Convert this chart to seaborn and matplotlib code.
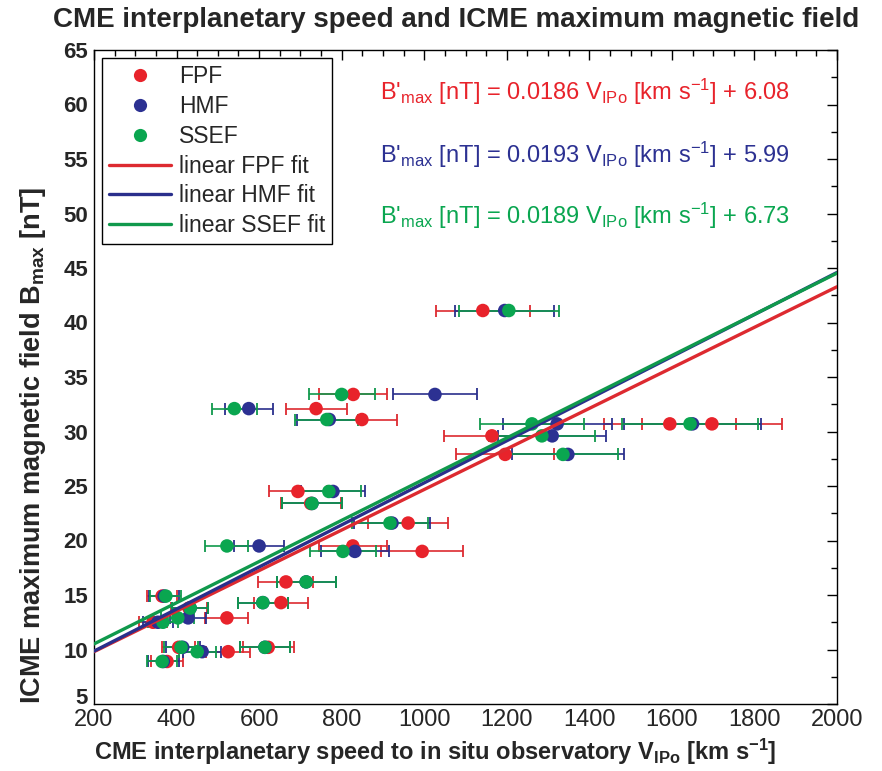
import numpy as np
import pandas as pd
import matplotlib
matplotlib.use("Agg")
import matplotlib.pyplot as plt
from matplotlib.lines import Line2D
from matplotlib.ticker import MultipleLocator
import seaborn as sns

# ICME maximum magnetic field observed in situ for each event [nT]
b_max = [41.1, 33.4, 32.1, 31.1, 30.7, 30.7, 29.6, 27.9, 24.5, 23.4, 21.6, 19.5,
         19.0, 16.2, 14.9, 14.3, 13.8, 12.9, 12.5, 10.2, 10.2, 9.8, 8.9]
# CME interplanetary speed to the in situ observatory from each fitting method [km/s]
v_fpf = [1142, 828, 738, 849, 1595, 1697, 1164, 1196, 694, 725, 961, 827,
         995, 665, 365, 653, 430, 522, 343, 405, 622, 525, 377]
v_hmf = [1195, 1026, 575, 770, 1322, 1650, 1310, 1348, 779, 728, 922, 600,
         832, 714, 370, 609, 433, 428, 355, 415, 614, 462, 368]
v_ssef = [1205, 800, 540, 764, 1261, 1644, 1285, 1336, 769, 728, 917, 522,
          803, 714, 374, 609, 433, 403, 367, 411, 614, 450, 365]
# relative uncertainty on the interplanetary speeds
speed_rel_err = 0.10

methods = ["FPF", "HMF", "SSEF"]
fit_slope = [0.0186, 0.0193, 0.0189]
fit_intercept = [6.08, 5.99, 6.73]
fit_range = [200, 2000]

x_ticks = list(range(200, 2001, 200))
y_ticks = list(range(5, 66, 5))

colors = {"FPF": "#e8232b", "HMF": "#2c3192", "SSEF": "#0aa650"}
line_colors = {"FPF": "#dd2a30", "HMF": "#2a2f8c", "SSEF": "#10994c"}

sns.set_theme(style="white")
plt.rcParams["font.family"] = ["Liberation Sans", "DejaVu Sans"]
plt.rcParams["mathtext.default"] = "regular"

fig = plt.figure(figsize=(8.82, 7.71), dpi=100)
ax = fig.add_axes([94 / 882, 1 - 704 / 771, (837 - 94) / 882, (704 - 50) / 771])

speeds = {"FPF": v_fpf, "HMF": v_hmf, "SSEF": v_ssef}
points = pd.concat(
    [pd.DataFrame({"speed": speeds[m], "bmax": b_max, "method": m}) for m in methods],
    ignore_index=True,
)

# horizontal uncertainty bars
for m in methods:
    v = np.asarray(speeds[m], dtype=float)
    ax.errorbar(v, b_max, xerr=speed_rel_err * v, fmt="none", ecolor=line_colors[m],
                elinewidth=1.2, capsize=4.3, capthick=1.3, zorder=2)

sns.scatterplot(data=points, x="speed", y="bmax", hue="method", palette=colors,
                s=95, edgecolor="none", linewidth=0, legend=False, ax=ax, zorder=3)

# linear fits
fits = pd.concat(
    [pd.DataFrame({"speed": fit_range,
                   "bfit": [fit_slope[i] * x + fit_intercept[i] for x in fit_range],
                   "method": m}) for i, m in enumerate(methods)],
    ignore_index=True,
)
sns.lineplot(data=fits, x="speed", y="bfit", hue="method", palette=line_colors,
             linewidth=2.4, legend=False, ax=ax, zorder=4)

ax.set_xlim(200, 2000)
ax.set_ylim(5, 65)
ax.set_xticks(x_ticks)
ax.set_yticks(y_ticks)
ax.xaxis.set_minor_locator(MultipleLocator(50))
ax.yaxis.set_minor_locator(MultipleLocator(2.5))
ax.tick_params(which="both", direction="in", top=True, right=True, color="black", width=1)
ax.tick_params(which="major", length=7)
ax.tick_params(which="minor", length=4)
ax.tick_params(axis="x", which="major", labelsize=17, pad=3.5)
ax.tick_params(axis="y", which="major", labelsize=16, pad=4.3)
ylabels = ax.get_yticklabels()
for lab in ylabels:
    lab.set_fontweight("bold")
ylabels[0].set_verticalalignment("baseline")
for s in ax.spines.values():
    s.set_color("black")
    s.set_linewidth(1.0)

ax.set_xlabel(r"CME interplanetary speed to in situ observatory V$_{IPo}$ [km s$^{-1}$]",
              fontsize=17, fontweight="bold")
ax.xaxis.set_label_coords(0.459, -0.050)
ax.set_ylabel(r"ICME maximum magnetic field B$_{max}$ [nT]",
              fontsize=19.5, fontweight="bold")
ax.yaxis.set_label_coords(-0.062, 0.396)
fig.text(0.517, 0.965, "CME interplanetary speed and ICME maximum magnetic field",
         ha="center", va="baseline", fontsize=20, fontweight="bold")

# fit equations
eq_y = [0.924, 0.828, 0.734]
for i, m in enumerate(methods):
    txt = (r"B'$_{max}$ [nT] = " + f"{fit_slope[i]:.4f}" + r" V$_{IPo}$ [km s$^{-1}$] + "
           + f"{fit_intercept[i]:.2f}")
    ax.text(0.385, eq_y[i], txt, transform=ax.transAxes, color=colors[m],
            fontsize=17, ha="left", va="baseline")

handles = [Line2D([], [], ls="none", marker="o", ms=9.5, color=colors[m], mec="none")
           for m in methods]
handles += [Line2D([], [], color=line_colors[m], lw=2.4) for m in methods]
labels = methods + [f"linear {m} fit" for m in methods]
leg = ax.legend(handles, labels, loc="upper left", bbox_to_anchor=(0.0, 1.0),
                fontsize=16.5, frameon=True, fancybox=False, edgecolor="black",
                framealpha=1, handlelength=2.7, handletextpad=0.35,
                labelspacing=0.3, borderpad=0.3, borderaxespad=0.35)
leg.get_frame().set_linewidth(1.0)

fig.savefig("out.png", dpi=100)
